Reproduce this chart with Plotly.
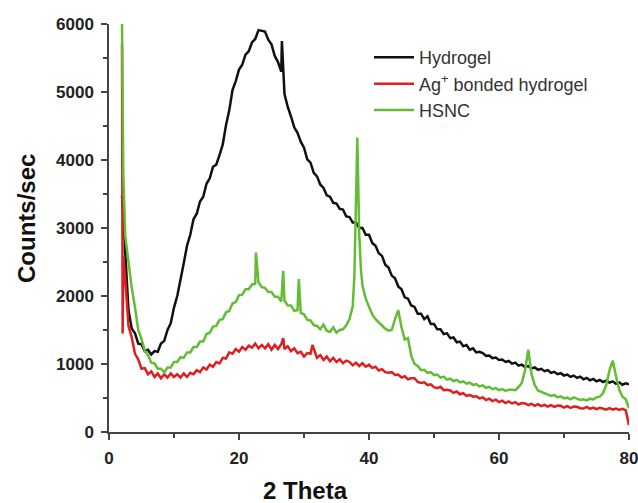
import numpy as np
import plotly.graph_objects as go

# measurement grid: 2.0 .. 80.0 step 0.5 (157 points)
two_theta = np.round(np.arange(2.0, 80.0001, 0.5), 2).tolist()

hydrogel = [
    3480, 2580, 1790, 1520, 1450, 1300, 1290, 1190, 1210, 1140,
    1190, 1180, 1300, 1340, 1500, 1600, 1830, 2000, 2270, 2480,
    2740, 2900, 3130, 3210, 3390, 3460, 3650, 3730, 3900, 3930,
    4070, 4230, 4510, 4730, 5030, 5160, 5330, 5400, 5550, 5600,
    5730, 5780, 5910, 5900, 5890, 5770, 5700, 5530, 5440, 5300,
    4970, 4780, 4640, 4480, 4400, 4270, 4180, 4010, 3960, 3810,
    3760, 3640, 3590, 3480, 3460, 3370, 3360, 3280, 3270, 3170,
    3160, 3080, 3080, 3000, 3000, 2900, 2900, 2780, 2740, 2630,
    2590, 2460, 2420, 2300, 2260, 2140, 2100, 1980, 1960, 1860,
    1840, 1740, 1740, 1660, 1700, 1590, 1590, 1510, 1510, 1440,
    1450, 1380, 1390, 1320, 1330, 1260, 1280, 1210, 1230, 1170,
    1180, 1160, 1120, 1125, 1085, 1095, 1060, 1065, 1030, 1045,
    1005, 1020, 975, 990, 955, 970, 935, 950, 915, 930,
    895, 910, 870, 885, 850, 865, 830, 845, 810, 830,
    795, 815, 775, 795, 760, 780, 745, 765, 735, 755,
    725, 745, 710, 730, 695, 715, 700,
]
hydrogel_extra_x = [26.6]
hydrogel_extra_y = [5750]

ag_hydrogel = [
    5700, 2250, 1560, 1390, 1150, 1070, 930, 940, 850, 890,
    810, 860, 790, 850, 800, 860, 810, 850, 800, 860,
    810, 870, 850, 910, 880, 950, 920, 990, 960, 1030,
    1010, 1090, 1080, 1170, 1150, 1220, 1180, 1250, 1210, 1270,
    1240, 1300, 1230, 1280, 1230, 1290, 1210, 1280, 1220, 1290,
    1220, 1260, 1190, 1230, 1160, 1180, 1110, 1160, 1150, 1230,
    1090, 1130, 1060, 1110, 1040, 1090, 1030, 1070, 1010, 1050,
    1030, 980, 1020, 970, 1010, 960, 990, 940, 960, 905,
    925, 880, 870, 880, 840, 845, 800, 820, 775, 790,
    790, 735, 720, 730, 690, 700, 660, 645, 665, 615,
    620, 610, 575, 595, 555, 570, 530, 545, 520, 525,
    495, 510, 470, 490, 455, 475, 440, 460, 425, 450,
    420, 440, 405, 425, 420, 395, 415, 385, 410, 380,
    400, 375, 395, 370, 390, 385, 360, 380, 355, 375,
    370, 350, 345, 370, 340, 360, 335, 355, 345, 330,
    350, 330, 345, 325, 340, 320, 100,
]
ag_extra_x = [2.1, 2.2, 26.8, 31.3]
ag_extra_y = [1450, 2580, 1380, 1280]

hsnc = [
    6000, 2880, 2480, 2120, 1830, 1500, 1370, 1200, 1130, 1020,
    1010, 930, 930, 880, 950, 950, 1030, 1030, 1100, 1090,
    1170, 1170, 1250, 1250, 1330, 1330, 1440, 1460, 1550, 1560,
    1650, 1660, 1760, 1780, 1890, 1910, 2010, 2020, 2100, 2100,
    2170, 2180, 2200, 2130, 2120, 2060, 2060, 1990, 1990, 1920,
    1930, 1860, 1860, 1780, 1790, 1750, 1730, 1650, 1640, 1570,
    1560, 1510, 1580, 1490, 1470, 1540, 1460, 1500, 1510, 1570,
    1660, 1850, 3400, 2900, 2150, 1960, 1840, 1730, 1660, 1610,
    1570, 1520, 1490, 1500, 1660, 1790, 1540, 1360, 1380, 1120,
    1000, 970, 910, 915, 870, 880, 835, 845, 800, 815,
    770, 785, 750, 765, 730, 745, 710, 725, 690, 705,
    670, 685, 650, 665, 630, 645, 615, 630, 605, 620,
    620, 615, 660, 720, 900, 1210, 850, 690, 610, 590,
    575, 550, 530, 545, 510, 525, 495, 505, 480, 510,
    495, 470, 480, 465, 490, 480, 510, 520, 570, 690,
    910, 1050, 820, 620, 520, 480, 350,
]
hsnc_extra_x = [2.2, 22.6, 26.8, 29.2, 37.75, 38.2, 38.75]
hsnc_extra_y = [3800, 2640, 2370, 2250, 2300, 4330, 2400]

series_names = ["Hydrogel", "Ag<sup>+</sup> bonded hydrogel", "HSNC"]
series_colors = ["#111111", "#dd1f1f", "#62bd35"]
x_title = "2 Theta"
y_title = "Counts/sec"


def merge(xs, ys, ex, ey):
    pts = sorted(list(zip(xs, ys)) + list(zip(ex, ey)), key=lambda p: p[0])
    return [p[0] for p in pts], [p[1] for p in pts]


data = [
    merge(two_theta, hydrogel, hydrogel_extra_x, hydrogel_extra_y),
    merge(two_theta, ag_hydrogel, ag_extra_x, ag_extra_y),
    merge(two_theta, hsnc, hsnc_extra_x, hsnc_extra_y),
]

fig = go.Figure()
for (xs, ys), name, col in zip(data, series_names, series_colors):
    fig.add_trace(go.Scatter(x=xs, y=ys, mode="lines", name=name,
                             line=dict(color=col, width=2.5)))

tickfont = dict(family="Liberation Sans, Arial, sans-serif", size=17,
                color="#222222", weight="bold")
titlefont = dict(family="Liberation Sans, Arial, sans-serif", size=24,
                 color="#111111", weight="bold")

fig.update_layout(
    width=638, height=503,
    margin=dict(l=109, r=9, t=24, b=71, autoexpand=False),
    paper_bgcolor="white", plot_bgcolor="white",
    showlegend=True,
    legend=dict(x=0.50, y=0.963, xanchor="left", yanchor="top",
                bgcolor="rgba(0,0,0,0)",
                font=dict(family="Liberation Sans, Arial, sans-serif",
                          size=18, color="#333333"),
                tracegroupgap=0, itemwidth=40),
    xaxis=dict(range=[0, 80], tickvals=[0, 20, 40, 60, 80],
               ticks="outside", ticklen=6, tickwidth=1.5,
               tickcolor="#444444",
               minor=dict(tickvals=[10, 30, 50, 70], ticks="outside",
                          ticklen=4, tickwidth=1.5, tickcolor="#444444"),
               showline=True, linecolor="#444444", linewidth=1.5,
               showgrid=False, zeroline=False, tickfont=tickfont,
               ticklabelstandoff=4, automargin=False,
               ticklabeloverflow="allow"),
    yaxis=dict(range=[0, 6000], tickvals=[0, 1000, 2000, 3000, 4000, 5000, 6000],
               ticks="outside", ticklen=6, tickwidth=1.5,
               tickcolor="#444444",
               minor=dict(tickvals=[500, 1500, 2500, 3500, 4500, 5500],
                          ticks="outside", ticklen=4, tickwidth=1.5,
                          tickcolor="#444444"),
               showline=True, linecolor="#444444", linewidth=1.5,
               showgrid=False, zeroline=False, tickfont=tickfont,
               ticklabelstandoff=4, automargin=False,
               ticklabeloverflow="allow"),
    annotations=[
        dict(text=x_title, xref="paper", yref="paper",
             x=(305 - 109) / 520, y=-(490 - 432) / 408,
             xanchor="center", yanchor="middle", showarrow=False,
             font=titlefont),
        dict(text=y_title, xref="paper", yref="paper",
             x=-(109 - 26) / 520, y=(432 - 219) / 408,
             xanchor="center", yanchor="middle", showarrow=False,
             textangle=-90, font=titlefont),
    ],
)

fig.write_html("out.html")
